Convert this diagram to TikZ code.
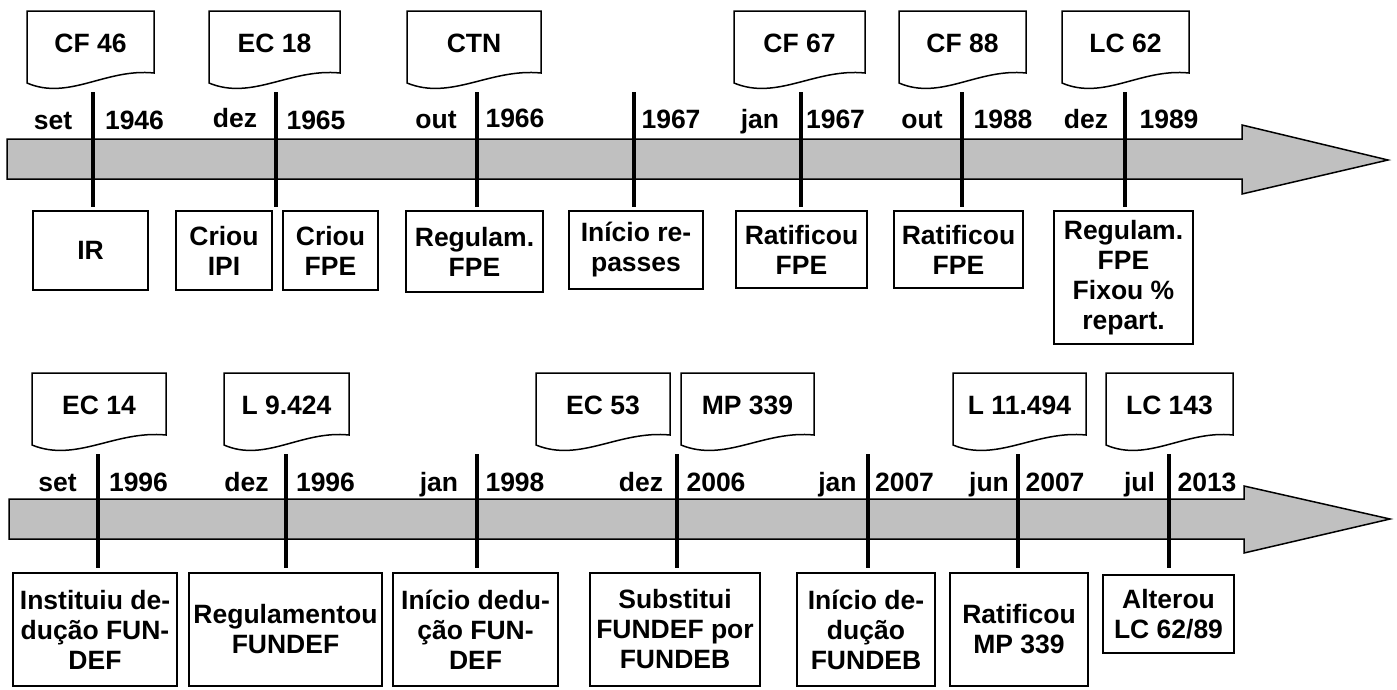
\documentclass[tikz,border=0pt]{standalone}
\usepackage{fontspec}
\setmainfont{Liberation Sans}
\begin{document}
\begin{tikzpicture}[x=1pt,y=-1pt,
  txt/.style={font=\fontsize{26.5}{30}\selectfont\bfseries, align=center, inner sep=0pt},
  box/.style={txt, draw=black, line width=1.5pt, fill=white},
  docline/.style={draw=black, line width=1.5pt, fill=white, line join=miter},
  lbl/.style={font=\fontsize{26.5}{30}\selectfont\bfseries, inner sep=0pt, anchor=base},
  tick/.style={line width=3.5pt},
  band/.style={draw=black, line width=1.5pt, fill={rgb,255:red,192;green,192;blue,192}, line join=miter}]
\useasboundingbox (0,0) rectangle (1397,689);
\newcommand\mydoc[5]{%
  \pgfmathsetmacro\dA{#2+0.62*(#3-#2)}%
  \pgfmathsetmacro\dB{#2+0.33*(#3-#2)}%
  \draw[docline] (#2,#4) -- (#3,#4) -- (#3,#4+62) .. controls (\dA,#4+57) and (\dB,#4+90) .. (#2,#4+72) -- cycle;
  \node[txt] (#1) at ({(#2+#3)/2},#4+32) {#5};}
% ===== top row =====
\draw[band] (7,139) -- (1242,139) -- (1242,125) -- (1388,160) -- (1242,194) -- (1242,179) -- (7,179) -- cycle;
\mydoc{dA1}{27}{154}{11}{CF 46}
\mydoc{dA2}{209}{340}{11}{EC 18}
\mydoc{dA3}{407}{541}{11}{CTN}
\mydoc{dA5}{734}{865}{11}{CF 67}
\mydoc{dA6}{899}{1026}{11}{CF 88}
\mydoc{dA7}{1062}{1189}{11}{LC 62}
\foreach \i/\x in {1/93,2/276,3/477,4/634,5/801,6/962,7/1125}{
  \coordinate (ta\i) at (\x,92);
  \coordinate (tb\i) at (\x,207);
  \draw[tick] (ta\i) -- (tb\i);
}
\node[lbl] (mA1) at (53,129) {set};
\node[lbl] (yA1) at (134.5,129) {1946};
\node[lbl] (mA2) at (235,127) {dez};
\node[lbl] (yA2) at (316,129) {1965};
\node[lbl] (mA3) at (436,128) {out};
\node[lbl] (yA3) at (515,127) {1966};
\node[lbl] (yA4) at (671,128) {1967};
\node[lbl] (mA5) at (760,128) {jan};
\node[lbl] (yA5) at (835.5,128) {1967};
\node[lbl] (mA6) at (922,128) {out};
\node[lbl] (yA6) at (1003,128) {1988};
\node[lbl] (mA7) at (1086,128) {dez};
\node[lbl] (yA7) at (1169,128) {1989};
\node[box, minimum width=115pt, minimum height=79pt] (bA1) at (90.5,250.5) {IR};
\node[box, minimum width=96pt, minimum height=79pt] (bA2) at (224,250.5) {Criou\\IPI};
\node[box, minimum width=95pt, minimum height=79pt] (bA2b) at (330.5,250.5) {Criou\\FPE};
\node[box, minimum width=137pt, minimum height=81pt] (bA3) at (474.5,251.5) {Regulam.\\FPE};
\node[box, minimum width=134pt, minimum height=78pt] (bA4) at (636,250) {Início re-\\passes};
\node[box, minimum width=131pt, minimum height=77pt] (bA5) at (801.5,249.5) {Ratificou\\FPE};
\node[box, minimum width=129pt, minimum height=77pt] (bA6) at (958.5,249.5) {Ratificou\\FPE};
\node[box, minimum width=139pt, minimum height=133pt] (bA7) at (1123.5,277.5) {Regulam.\\FPE\\Fixou \%\\repart.};
% ===== bottom row =====
\draw[band] (9,499) -- (1244,499) -- (1244,486) -- (1390,519) -- (1244,553) -- (1244,539) -- (9,539) -- cycle;
\mydoc{dB1}{32}{166}{373}{EC 14}
\mydoc{dB2}{224}{349}{373}{L 9.424}
\mydoc{dB4a}{536}{670}{373}{EC 53}
\mydoc{dB4b}{681}{814}{373}{MP 339}
\mydoc{dB6}{953}{1086}{373}{L 11.494}
\mydoc{dB7}{1106}{1233}{373}{LC 143}
\foreach \i/\x in {1/98,2/286,3/477,4/677,5/868,6/1018,7/1169}{
  \coordinate (ua\i) at (\x,454);
  \coordinate (ub\i) at (\x,568);
  \draw[tick] (ua\i) -- (ub\i);
}
\node[lbl] (mB1) at (57.5,491) {set};
\node[lbl] (yB1) at (138.5,491) {1996};
\node[lbl] (mB2) at (246.5,491) {dez};
\node[lbl] (yB2) at (325.5,491) {1996};
\node[lbl] (mB3) at (439,491) {jan};
\node[lbl] (yB3) at (515,491) {1998};
\node[lbl] (mB4) at (641,491) {dez};
\node[lbl] (yB4) at (716,491) {2006};
\node[lbl] (mB5) at (837.5,491) {jan};
\node[lbl] (yB5) at (904.5,491) {2007};
\node[lbl] (mB6) at (989,491) {jun};
\node[lbl] (yB6) at (1055,491) {2007};
\node[lbl] (mB7) at (1139.5,491) {jul};
\node[lbl] (yB7) at (1207,491) {2013};
\node[box, minimum width=164pt, minimum height=113pt] (bB1) at (95,629.5) {Instituiu de-\\dução FUN-\\DEF};
\node[box, minimum width=193pt, minimum height=113pt] (bB2) at (285.5,629.5) {Regulamentou\\FUNDEF};
\node[box, minimum width=165pt, minimum height=113pt] (bB3) at (475.5,629.5) {Início dedu-\\ção FUN-\\DEF};
\node[box, minimum width=170pt, minimum height=113pt] (bB4) at (675,629.5) {Substitui\\FUNDEF por\\FUNDEB};
\node[box, minimum width=138pt, minimum height=113pt] (bB5) at (866,629.5) {Início de-\\dução\\FUNDEB};
\node[box, minimum width=138pt, minimum height=113pt] (bB6) at (1019,629.5) {Ratificou\\MP 339};
\node[box, minimum width=131pt, minimum height=78pt] (bB7) at (1168.5,614) {Alterou\\LC 62/89};
\end{tikzpicture}
\end{document}
